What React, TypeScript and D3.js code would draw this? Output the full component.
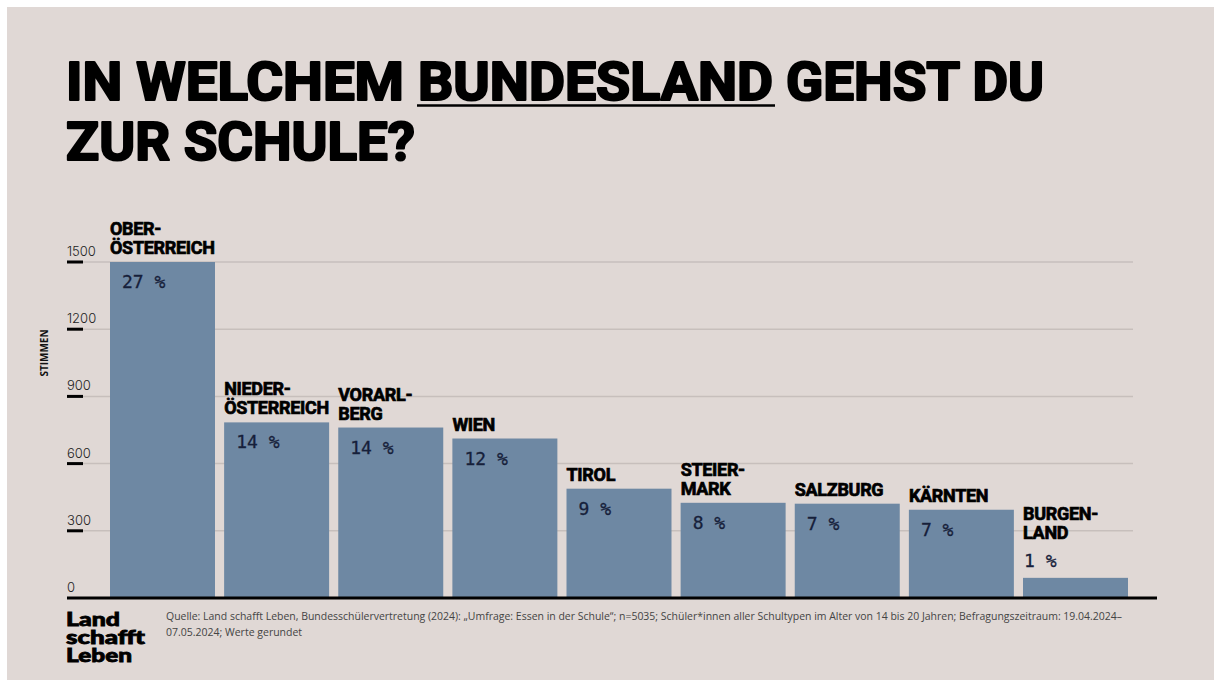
import React from "react";
import * as d3 from "d3";

const categories = ["OBER-\nÖSTERREICH", "NIEDER-\nÖSTERREICH", "VORARL-\nBERG", "WIEN", "TIROL", "STEIER-\nMARK", "SALZBURG", "KÄRNTEN", "BURGEN-\nLAND"];
const votes = [1500, 784, 761, 712, 488, 425, 421, 394, 90];
const percents = [27, 14, 14, 12, 9, 8, 7, 7, 1];
const yTicks = [0, 300, 600, 900, 1200, 1500];
const titleLine1 = ["IN WELCHEM", "BUNDESLAND", "GEHST DU"];
const titleLine2 = "ZUR SCHULE?";
const yAxisTitle = "STIMMEN";
const logoLines = ["Land", "schafft", "Leben"];
const logoWidths = [54, 79, 66];
const sourceLines = [
  "Quelle: Land schafft Leben, Bundesschülervertretung (2024): „Umfrage: Essen in der Schule“; n=5035; Schüler*innen aller Schultypen im Alter von 14 bis 20 Jahren; Befragungszeitraum: 19.04.2024–",
  "07.05.2024; Werte gerundet",
];

const BG = "#e0d8d5";
const BAR = "#6e88a3";
const HEAVY = "Roboto, 'DejaVu Sans', sans-serif";

export default function App() {
  const W = 1214, H = 680;
  const x = d3.scaleBand<string>().domain(categories).range([110, 1128]).paddingInner(0.08).paddingOuter(0);
  const y = d3.scaleLinear().domain([0, 1500]).range([598, 262]);

  const titleSegs = [
    { t: titleLine1[0], x0: 66, x1: 404 },
    { t: titleLine1[1], x0: 418, x1: 773 },
    { t: titleLine1[2], x0: 786, x1: 1044 },
  ];

  return (
    <svg width={W} height={H} style={{ position: "fixed", left: 0, top: 0, display: "block" }}>
      <rect x={0} y={0} width={W} height={H} fill="#fff" />
      <rect x={7} y={7} width={W - 7} height={H - 7} fill={BG} />
      <g>
        {titleSegs.map((s, i) => (
          <text key={i} x={s.x0} y={100} fontFamily={HEAVY} fontWeight={700} fontSize={54}
            stroke="#000" strokeWidth={2.2} strokeLinejoin="round"
            textLength={s.x1 - s.x0} lengthAdjust="spacingAndGlyphs" fill="#000">{s.t}</text>
        ))}
        <line x1={417} x2={775} y1={105.5} y2={105.5} stroke="#000" strokeWidth={2.5} />
        <text x={66} y={160} fontFamily={HEAVY} fontWeight={700} fontSize={54}
          stroke="#000" strokeWidth={2.2} strokeLinejoin="round"
          textLength={415 - 66} lengthAdjust="spacingAndGlyphs" fill="#000">{titleLine2}</text>

        {/* grid + ticks */}
        {yTicks.map((t) => (
          <g key={t}>
            {t > 0 && <line x1={68} x2={1133} y1={y(t)} y2={y(t)} stroke="#c7bfbc" strokeWidth={1.5} />}
            {t > 0 && <line x1={67} x2={83} y1={y(t)} y2={y(t)} stroke="#000" strokeWidth={3} />}
            <text x={67} y={y(t) - 6} fontFamily="Inter, 'Open Sans', sans-serif" fontWeight={300}
              fontSize={13} fill="#222">{t}</text>
          </g>
        ))}
        <text transform={`translate(48,353) rotate(-90)`} textAnchor="middle"
          fontFamily="'Open Sans', sans-serif" fontWeight={700} fontSize={10} fill="#111">{yAxisTitle}</text>

        {/* bars */}
        {categories.map((c, i) => {
          const bx = x(c)!;
          const by = y(votes[i]);
          const h = y(0) - by;
          const lines = c.split("\n");
          const inside = h > 40;
          const pctY = inside ? by + 26 : by - 11;
          const lastLabelY = inside ? by - 8 : pctY - 28;
          return (
            <g key={c}>
              <rect x={bx} y={by} width={x.bandwidth()} height={h} fill={BAR} />
              {lines.map((l, j) => (
                <text key={j} x={bx} y={lastLabelY - (lines.length - 1 - j) * 19}
                  fontFamily={HEAVY} fontWeight={700} fontSize={18} stroke="#000" strokeWidth={0.7}
                  letterSpacing={-0.3} fill="#000">{l}</text>
              ))}
              <text x={bx + (inside ? 12 : 1)} y={pctY} fontFamily="'DejaVu Sans Mono', monospace"
                fontSize={18} fill="#16203a" stroke="#16203a" strokeWidth={0.3}
                xmlSpace="preserve">{`${percents[i]} %`}</text>
            </g>
          );
        })}
        <line x1={67} x2={1157} y1={y(0)} y2={y(0)} stroke="#000" strokeWidth={3} />

        {/* footer */}
        {logoLines.map((l, i) => (
          <text key={i} x={66} y={626 + i * 18} fontFamily="Lato, 'Noto Sans', sans-serif" fontWeight={900}
            stroke="#000" strokeWidth={0.8} fontSize={19} fill="#000"
            textLength={logoWidths[i]} lengthAdjust="spacingAndGlyphs">{l}</text>
        ))}
        {sourceLines.map((l, i) => (
          <text key={i} x={166} y={620 + i * 16} fontFamily="'Open Sans', sans-serif" fontSize={10.5}
            fill="#444" textLength={i === 0 ? 1122 - 166 : undefined} lengthAdjust="spacingAndGlyphs">{l}</text>
        ))}
      </g>
    </svg>
  );
}
